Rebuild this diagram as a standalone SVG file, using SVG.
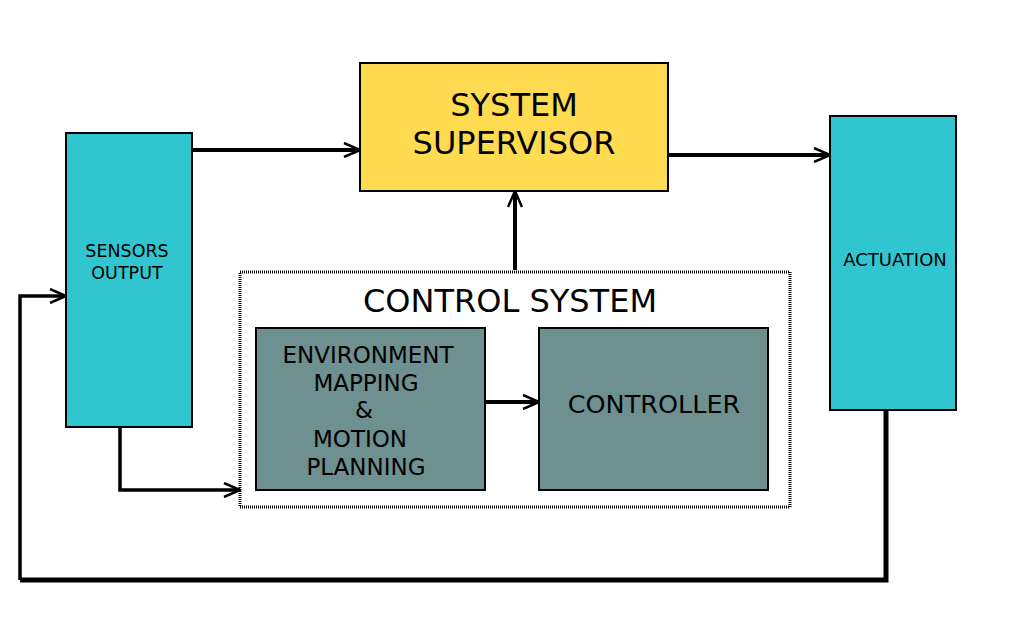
<svg xmlns="http://www.w3.org/2000/svg" width="1024" height="640" viewBox="0 0 1024 640">
<defs>
<marker id="arr" viewBox="0 0 18 16" refX="17" refY="8" markerWidth="18" markerHeight="16" markerUnits="userSpaceOnUse" orient="auto">
<path d="M1,1 L17,8 L1,15" fill="none" stroke="#000" stroke-width="2.5"/>
</marker>
<style>
text{font-family:"DejaVu Sans","Liberation Sans",sans-serif;fill:#000;text-anchor:middle}
.box{stroke:#000;stroke-width:2}
.c{fill:none;stroke:#000}
</style>
</defs>
<rect width="1024" height="640" fill="#fff"/>
<g id="control-system">
<rect x="240" y="272" width="550" height="235" fill="none" stroke="#000" stroke-width="3" stroke-dasharray="1,1"/>
<text x="510" y="312" font-size="32">CONTROL SYSTEM</text>
</g>
<g id="supervisor">
<rect class="box" x="360" y="63" width="308" height="128" fill="#FFDB52"/>
<text x="514" y="116" font-size="32">SYSTEM</text>
<text x="514" y="154" font-size="32">SUPERVISOR</text>
</g>
<g id="sensors">
<rect class="box" x="66" y="133" width="126" height="294" fill="#31C6CF"/>
<text x="127" y="257" font-size="17.5">SENSORS</text>
<text x="127" y="279" font-size="17.5">OUTPUT</text>
</g>
<g id="actuation">
<rect class="box" x="830" y="116" width="126" height="294" fill="#31C6CF"/>
<text x="895" y="266" font-size="18">ACTUATION</text>
</g>
<g id="env">
<rect class="box" x="256" y="328" width="229" height="162" fill="#6E9090"/>
<text x="368" y="363" font-size="23">ENVIRONMENT</text>
<text x="366" y="391" font-size="23">MAPPING</text>
<text x="364" y="418" font-size="23">&amp;</text>
<text x="360" y="447" font-size="23">MOTION</text>
<text x="366" y="475" font-size="23">PLANNING</text>
</g>
<g id="controller">
<rect class="box" x="539" y="328" width="229" height="162" fill="#6E9090"/>
<text x="654" y="413" font-size="25.5">CONTROLLER</text>
</g>
<g id="connectors">
<path class="c" style="stroke-width:4" d="M192,150 H360" marker-end="url(#arr)"/>
<path class="c" style="stroke-width:4" d="M668,155 H830" marker-end="url(#arr)"/>
<path class="c" style="stroke-width:4" d="M515,270 V191" marker-end="url(#arr)"/>
<path class="c" style="stroke-width:4" d="M485,402 H539" marker-end="url(#arr)"/>
<path class="c" style="stroke-width:3.5" d="M120,427 V490 H240" marker-end="url(#arr)"/>
<path class="c" style="stroke-width:5" d="M886,410 V580 H20"/>
<path class="c" style="stroke-width:3.5" d="M20,580 V296 H66" marker-end="url(#arr)"/>
</g>
</svg>
